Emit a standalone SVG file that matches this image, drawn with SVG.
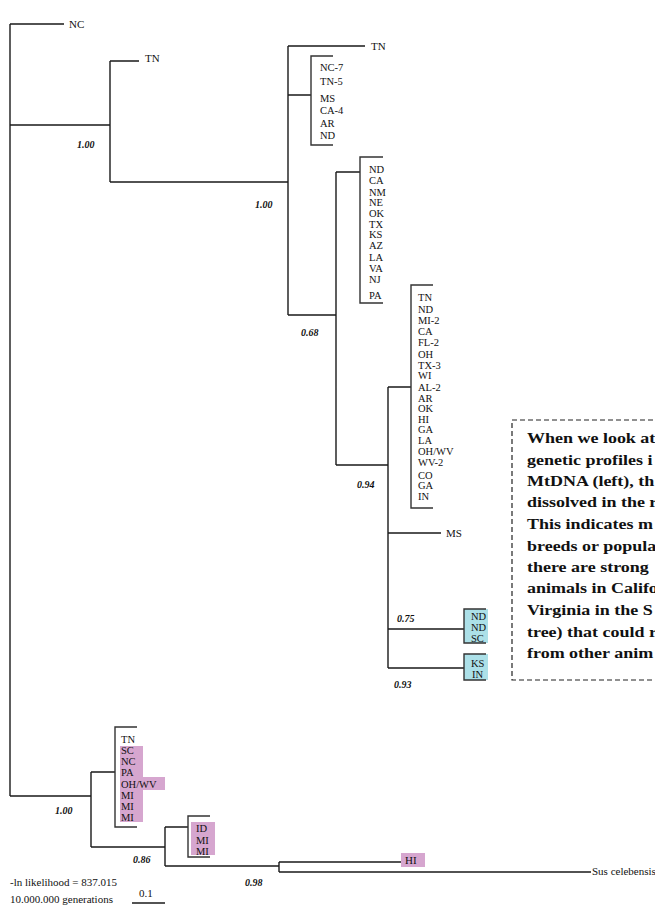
<svg xmlns="http://www.w3.org/2000/svg" width="655" height="905" viewBox="0 0 655 905">
<style>
.e{fill:none;stroke:#1a1a1a;stroke-width:1.4}
.b{fill:none;stroke:#333;stroke-width:1.4}
.l{font-family:"Liberation Serif","Times New Roman",serif;font-size:10.5px;fill:#111}
.s{font-family:"Liberation Serif","Times New Roman",serif;font-size:10px;font-weight:bold;font-style:italic;fill:#111}
.t{font-family:"Liberation Serif","Times New Roman",serif;font-size:15px;font-weight:bold;fill:#111}
.pk{fill:#d6a6cf}
.bl{fill:#ace0e8}
</style>
<rect width="655" height="905" fill="#fff"/>
<g id="connectors">
<path class="e" d="M10 24V796M10 24H64M10 125H110M110 61V182M110 61H139M110 182H288M288 46V315M288 46H365M288 95H311M288 315H336M336 172V465M336 172H360M336 465H388M388 387V668M388 387H411M388 533H441M388 629H464M388 668H464"/>
<path class="e" d="M10 796H91M91 772V847M91 772H115M91 847H165M165 827V866M165 827H188M165 866H279M279 862V872M279 862H401M279 872H591"/>
</g>
<g id="n-nc"><text class="l" x="69" y="28" style="font-size:11px">NC</text></g>
<g id="n-tn1"><text class="l" x="145" y="62" style="font-size:11px">TN</text></g>
<g id="n-tn2"><text class="l" x="371" y="50" style="font-size:11px">TN</text></g>
<g id="clade-a">
<path class="b" d="M333 56H311V145H333"/>
<text class="l" x="320" y="71">NC-7</text>
<text class="l" x="320" y="85">TN-5</text>
<text class="l" x="320" y="102">MS</text>
<text class="l" x="320" y="114">CA-4</text>
<text class="l" x="320" y="127">AR</text>
<text class="l" x="320" y="139">ND</text>
</g>
<g id="clade-b">
<path class="b" d="M383 157H360V303H383"/>
<text class="l" x="369" y="173">ND</text>
<text class="l" x="369" y="184">CA</text>
<text class="l" x="369" y="196">NM</text>
<text class="l" x="369" y="206">NE</text>
<text class="l" x="369" y="217">OK</text>
<text class="l" x="369" y="228">TX</text>
<text class="l" x="369" y="238">KS</text>
<text class="l" x="369" y="249">AZ</text>
<text class="l" x="369" y="261">LA</text>
<text class="l" x="369" y="272">VA</text>
<text class="l" x="369" y="283">NJ</text>
<text class="l" x="369" y="299">PA</text>
</g>
<g id="clade-c">
<path class="b" d="M433 285H411V508H433"/>
<text class="l" x="418" y="301">TN</text>
<text class="l" x="418" y="313">ND</text>
<text class="l" x="418" y="324">MI-2</text>
<text class="l" x="418" y="335">CA</text>
<text class="l" x="418" y="346">FL-2</text>
<text class="l" x="418" y="358">OH</text>
<text class="l" x="418" y="369">TX-3</text>
<text class="l" x="418" y="379">WI</text>
<text class="l" x="418" y="391">AL-2</text>
<text class="l" x="418" y="402">AR</text>
<text class="l" x="418" y="412">OK</text>
<text class="l" x="418" y="423">HI</text>
<text class="l" x="418" y="433">GA</text>
<text class="l" x="418" y="444">LA</text>
<text class="l" x="418" y="455">OH/WV</text>
<text class="l" x="418" y="466">WV-2</text>
<text class="l" x="418" y="479">CO</text>
<text class="l" x="418" y="489">GA</text>
<text class="l" x="418" y="500">IN</text>
</g>
<g id="n-ms"><text class="l" x="446" y="537" style="font-size:11px">MS</text></g>
<g id="clade-d">
<rect class="bl" x="464" y="609" width="24" height="34"/>
<path class="b" d="M486 609H464V643H486"/>
<text class="l" x="471" y="620">ND</text>
<text class="l" x="471" y="631">ND</text>
<text class="l" x="471" y="642">SC</text>
</g>
<g id="clade-e">
<rect class="bl" x="464" y="654" width="24" height="26"/>
<path class="b" d="M486 654H464V680H486"/>
<text class="l" x="471" y="667">KS</text>
<text class="l" x="472" y="678">IN</text>
</g>
<g id="clade-f">
<path class="pk" d="M120 746H143V777H165V790H143V822H120Z"/>
<path class="b" d="M137 727H115V827H137"/>
<text class="l" x="121" y="743">TN</text>
<text class="l" x="121" y="754">SC</text>
<text class="l" x="121" y="765">NC</text>
<text class="l" x="121" y="776">PA</text>
<text class="l" x="121" y="788">OH/WV</text>
<text class="l" x="121" y="799">MI</text>
<text class="l" x="121" y="810">MI</text>
<text class="l" x="121" y="821">MI</text>
</g>
<g id="clade-g">
<rect class="pk" x="191" y="822" width="24" height="33"/>
<path class="b" d="M210 816H188V857H210"/>
<text class="l" x="196" y="832">ID</text>
<text class="l" x="196" y="844">MI</text>
<text class="l" x="196" y="855">MI</text>
</g>
<g id="n-hi">
<rect class="pk" x="401" y="853" width="24" height="14"/>
<text class="l" x="405" y="864" style="font-size:11px">HI</text>
</g>
<g id="n-sus"><text class="l" x="592" y="875" style="font-size:11px">Sus celebensis</text></g>
<g id="support">
<text class="s" x="77" y="148">1.00</text>
<text class="s" x="255" y="208">1.00</text>
<text class="s" x="301" y="336">0.68</text>
<text class="s" x="357" y="488">0.94</text>
<text class="s" x="397" y="622">0.75</text>
<text class="s" x="394" y="688">0.93</text>
<text class="s" x="55" y="814">1.00</text>
<text class="s" x="133" y="863">0.86</text>
<text class="s" x="245" y="886">0.98</text>
</g>
<g id="legend">
<text class="l" x="10" y="886" style="font-size:11px">-ln likelihood = 837.015</text>
<text class="l" x="10" y="903" style="font-size:11px">10.000.000 generations</text>
<text class="l" x="139" y="897" style="font-size:11px">0.1</text>
<path class="e" d="M132 903H165"/>
</g>
<g id="note">
<rect x="512" y="420" width="160" height="260" fill="none" stroke="#222" stroke-width="1.2" stroke-dasharray="5,3"/>
<g transform="translate(527 0) scale(1.2 1)">
<text class="t" x="0" y="443">When we look at</text>
<text class="t" x="0" y="465">genetic profiles i</text>
<text class="t" x="0" y="486">MtDNA (left), th</text>
<text class="t" x="0" y="507">dissolved in the r</text>
<text class="t" x="0" y="529">This indicates m</text>
<text class="t" x="0" y="551">breeds or popula</text>
<text class="t" x="0" y="572">there are strong</text>
<text class="t" x="0" y="593">animals in Califo</text>
<text class="t" x="0" y="615">Virginia in the S</text>
<text class="t" x="0" y="637">tree) that could r</text>
<text class="t" x="0" y="658">from other anim</text>
</g>
</g>
</svg>
